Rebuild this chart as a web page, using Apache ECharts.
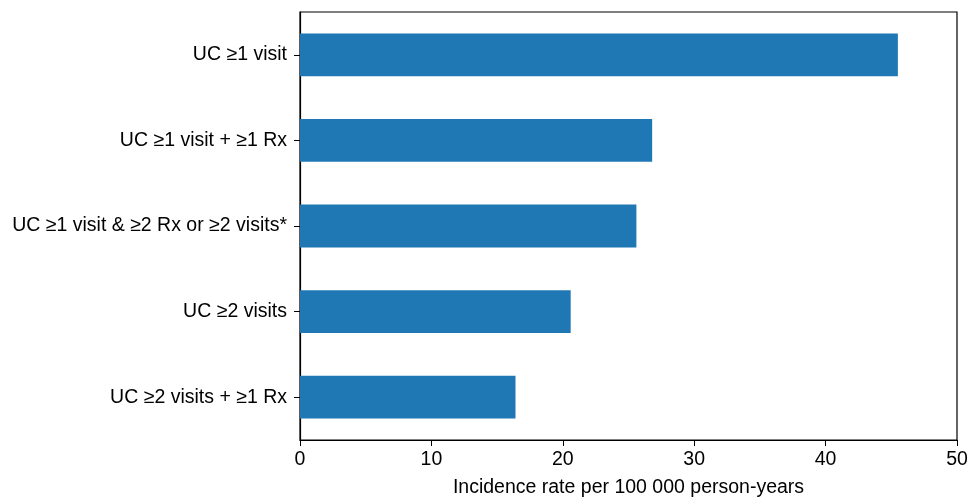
<!DOCTYPE html>
<html><head><meta charset="utf-8">
<script src="https://cdn.jsdelivr.net/npm/echarts@6/dist/echarts.min.js"></script>
<style>html,body{margin:0;padding:0;background:#fff}#c{width:970px;height:498px}</style>
</head><body><div id="c"></div>
<script>
const categories = ['UC ≥1 visit', 'UC ≥1 visit + ≥1 Rx', 'UC ≥1 visit & ≥2 Rx or ≥2 visits*', 'UC ≥2 visits', 'UC ≥2 visits + ≥1 Rx'];
const values = [45.5, 26.8, 25.6, 20.6, 16.4];
const xTicks = [0, 10, 20, 30, 40, 50];
const chart = echarts.init(document.getElementById('c'));
const font = 'Liberation Sans, Arial, sans-serif';
chart.setOption({
  animation: false,
  grid: {left: 300, right: 13, top: 12, bottom: 58, outerBoundsMode: 'none', containLabel: false, show: true, borderColor: '#000', borderWidth: 1.2, backgroundColor: 'transparent'},
  xAxis: {
    type: 'value', min: xTicks[0], max: xTicks[xTicks.length-1], interval: 10,
    name: 'Incidence rate per 100 000 person-years', nameLocation: 'middle', nameGap: 38,
    nameTextStyle: {fontFamily: font, fontSize: 19.5, color: '#000'},
    axisLine: {show: true, lineStyle: {color: '#000', width: 1.2}},
    axisTick: {show: true, length: 6, lineStyle: {color: '#000'}},
    axisLabel: {fontFamily: font, fontSize: 19.5, color: '#000', margin: 10},
    splitLine: {show: false}
  },
  yAxis: {
    type: 'category', data: categories, inverse: true,
    axisLine: {show: true, lineStyle: {color: '#000', width: 1.2}},
    axisTick: {show: true, alignWithLabel: true, length: 6, lineStyle: {color: '#000'}},
    axisLabel: {fontFamily: font, fontSize: 19.5, color: '#000', margin: 13},
    splitLine: {show: false}
  },
  series: [{
    type: 'bar', data: values, barWidth: '50%',
    itemStyle: {color: '#1f77b4'}
  }]
});
</script></body></html>
